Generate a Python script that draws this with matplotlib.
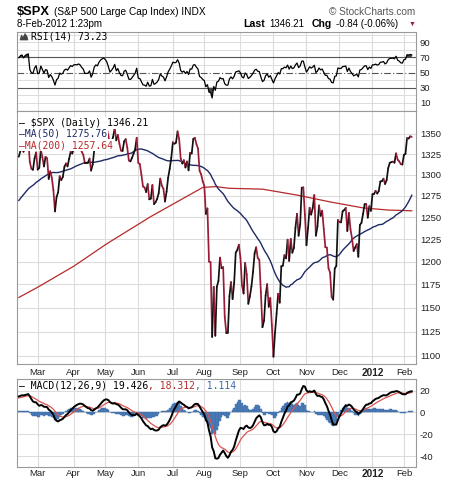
import numpy as np
import pandas as pd
import matplotlib
matplotlib.use("Agg")
import matplotlib.pyplot as plt
from matplotlib.collections import LineCollection
from matplotlib.patches import Polygon
from matplotlib.ticker import FixedLocator, FixedFormatter, NullLocator

plt.rcParams["axes.unicode_minus"] = False

# ---------------- data ----------------
# warm-up closes (Dec 2010 - 9 Feb 2011), used only for indicator calculation
warmup_dec10 = [1206.07, 1221.53, 1224.71, 1223.12, 1223.75, 1228.28, 1233.00, 1240.40, 1240.46, 1241.59,
                1235.23, 1242.87, 1243.91, 1247.08, 1254.60, 1258.84, 1256.77, 1257.54, 1258.51, 1259.78,
                1257.88, 1257.64]
warmup_jan11 = [1271.87, 1270.20, 1276.56, 1273.85, 1271.50, 1269.75, 1274.48, 1285.96, 1283.76, 1293.24,
                1295.02, 1281.92, 1280.26, 1283.35, 1290.84, 1291.18, 1296.63, 1299.54, 1276.34, 1286.12]
warmup_feb11 = [1307.59, 1304.03, 1307.10, 1310.87, 1319.05, 1324.57, 1320.88]

# displayed closes, 10 Feb 2011 - 8 Feb 2012
feb11 = [1321.87, 1329.15, 1332.32, 1328.01, 1336.32, 1340.43, 1343.01, 1315.44, 1307.40, 1306.10, 1319.88, 1327.22]
mar11 = [1306.33, 1308.44, 1330.97, 1321.15, 1310.13, 1321.82, 1320.02, 1295.11, 1304.28, 1296.39, 1281.87, 1256.88,
         1273.72, 1279.21, 1298.38, 1293.77, 1297.54, 1309.66, 1313.80, 1310.19, 1319.44, 1328.26, 1325.83]
apr11 = [1332.41, 1332.87, 1332.63, 1335.54, 1333.51, 1328.17, 1324.46, 1314.16, 1314.41, 1314.52, 1319.68, 1305.14,
         1312.62, 1330.36, 1337.38, 1335.25, 1347.24, 1355.66, 1360.48, 1363.61]
may11 = [1361.22, 1356.62, 1347.32, 1335.10, 1340.20, 1346.29, 1357.16, 1342.08, 1348.65, 1337.77, 1329.47, 1328.98,
         1340.68, 1343.60, 1333.27, 1317.37, 1316.28, 1320.47, 1325.69, 1331.10, 1345.20]
jun11 = [1314.55, 1312.94, 1300.16, 1286.17, 1284.94, 1279.56, 1289.00, 1270.98, 1271.83, 1287.87, 1265.42, 1267.64,
         1271.50, 1278.36, 1295.52, 1287.14, 1283.50, 1268.45, 1280.10, 1296.67, 1307.41, 1320.64]
jul11 = [1339.67, 1337.88, 1339.22, 1353.22, 1343.80, 1319.49, 1313.64, 1317.72, 1308.87, 1316.14, 1305.44, 1326.73,
         1325.84, 1343.80, 1345.02, 1337.43, 1331.94, 1304.89, 1300.67, 1292.28]
aug11 = [1286.94, 1254.05, 1260.34, 1200.07, 1199.38, 1119.46, 1172.53, 1120.76, 1172.64, 1178.81, 1204.49, 1192.76,
         1193.89, 1140.65, 1123.53, 1123.82, 1162.35, 1177.60, 1159.27, 1176.80, 1210.08, 1212.92, 1218.89]
sep11 = [1204.42, 1173.97, 1165.24, 1198.62, 1185.90, 1154.23, 1162.27, 1172.87, 1188.68, 1209.11, 1216.01, 1204.09,
         1202.09, 1166.76, 1129.56, 1136.43, 1162.95, 1175.38, 1151.06, 1160.40, 1131.42]
oct11 = [1099.23, 1123.95, 1144.03, 1164.97, 1155.46, 1194.89, 1195.54, 1207.25, 1203.66, 1224.58, 1200.86, 1225.38,
         1209.88, 1215.39, 1238.25, 1254.19, 1229.05, 1242.00, 1284.59, 1285.09, 1253.30]
nov11 = [1218.28, 1237.90, 1261.15, 1253.23, 1261.12, 1275.92, 1229.10, 1239.69, 1263.85, 1251.78, 1257.81, 1236.91,
         1216.13, 1215.65, 1192.98, 1188.04, 1161.79, 1158.67, 1192.55, 1195.19, 1246.96]
dec11 = [1244.58, 1244.28, 1257.08, 1258.47, 1261.01, 1234.35, 1255.19, 1236.47, 1225.73, 1211.82, 1215.75, 1219.66,
         1205.35, 1241.30, 1243.72, 1254.00, 1265.33, 1265.43, 1249.64, 1263.02, 1257.60]
jan12 = [1277.06, 1277.30, 1281.06, 1277.81, 1280.70, 1292.08, 1292.48, 1295.50, 1289.09, 1293.67, 1308.04, 1314.50,
         1315.38, 1316.00, 1314.65, 1326.06, 1318.43, 1316.33, 1313.01, 1312.41]
feb12 = [1324.09, 1325.54, 1344.90, 1344.33, 1347.05, 1346.21]

# 200-day moving average (trading-day index, value)
ma200_idx = [0, 12, 35, 56, 84, 117, 125, 134, 155, 177, 198, 219, 235, 250]
ma200_val = [1161, 1172, 1195, 1220, 1251, 1285, 1286, 1284, 1283, 1276, 1268, 1261, 1258.5, 1257.64]

month_idx = [12, 35, 55, 76, 98, 118, 141, 162, 183, 204, 225, 245]
month_lbl = ["Mar", "Apr", "May", "Jun", "Jul", "Aug", "Sep", "Oct", "Nov", "Dec", "2012", "Feb"]

price_ticks = [1100, 1125, 1150, 1175, 1200, 1225, 1250, 1275, 1300, 1325, 1350]
rsi_ticks = [10, 30, 50, 70, 90]
macd_ticks = [-40, -20, 0, 20]

# ---------------- indicators ----------------
warm = warmup_dec10 + warmup_jan11 + warmup_feb11
shown = feb11 + mar11 + apr11 + may11 + jun11 + jul11 + aug11 + sep11 + oct11 + nov11 + dec11 + jan12 + feb12
allc = pd.Series(warm + shown, dtype=float)
nw = len(warm)
closes = np.array(shown)
n = len(closes)
x = np.arange(n)

ma50 = allc.rolling(50).mean().values[nw:]

d = allc.diff()
gain = d.clip(lower=0).values
loss = (-d).clip(lower=0).values
ag = np.full(len(allc), np.nan)
al = np.full(len(allc), np.nan)
ag[14] = np.mean(gain[1:15]); al[14] = np.mean(loss[1:15])
for i in range(15, len(allc)):
    ag[i] = (ag[i - 1] * 13 + gain[i]) / 14
    al[i] = (al[i - 1] * 13 + loss[i]) / 14
rsi = (100 - 100 / (1 + ag / al))[nw:]

ema12 = allc.ewm(span=12, adjust=False).mean()
ema26 = allc.ewm(span=26, adjust=False).mean()
macd_s = ema12 - ema26
sig_s = macd_s.ewm(span=9, adjust=False).mean()
macd = macd_s.values[nw:]
sig = sig_s.values[nw:]
hist = macd - sig

# ---------------- figure ----------------
W, H = 460, 482
fig = plt.figure(figsize=(W / 100, H / 100), dpi=100)
fig.patch.set_facecolor("white")
L, R = 16.7, 415.7


def rect(top, bottom):
    return [L / W, 1 - bottom / H, (R - L) / W, (bottom - top) / H]


ax_rsi = fig.add_axes(rect(31.5, 111))
ax_px = fig.add_axes(rect(111, 363.5))
ax_macd = fig.add_axes(rect(378.5, 467))

GRID = "#dcdcdc"
SPINE = "#9a9a9a"
SANS = ["Liberation Sans", "DejaVu Sans"]
MONO = ["DejaVu Sans Mono"]
XL = (-1.35, 252.5)

for ax in (ax_rsi, ax_px, ax_macd):
    ax.set_xlim(*XL)
    for s in ax.spines.values():
        s.set_color(SPINE)
        s.set_linewidth(0.8)
    ax.yaxis.tick_right()
    ax.tick_params(axis="both", length=0, labelsize=6.8, colors="#222222", pad=3)
    ax.xaxis.set_major_locator(FixedLocator(month_idx))
    ax.xaxis.set_minor_locator(NullLocator())
    ax.grid(True, axis="x", color=GRID, linewidth=0.8)
    ax.set_axisbelow(True)

# ---- RSI ----
ax_rsi.set_ylim(-0.8, 104.3)
for lv in range(10, 101, 10):
    if lv in (30, 50, 70):
        continue
    ax_rsi.axhline(lv, color=GRID, lw=0.7, zorder=0)
ax_rsi.axhline(70, color="#555555", lw=0.8, zorder=1)
ax_rsi.axhline(30, color="#555555", lw=0.8, zorder=1)
ax_rsi.axhline(50, color="#555555", lw=0.8, ls=(0, (6, 2, 1, 2)), zorder=1)
ax_rsi.fill_between(x, rsi, 70, where=rsi > 70, interpolate=True, color="#444444", lw=0, zorder=2)
ax_rsi.fill_between(x, rsi, 30, where=rsi < 30, interpolate=True, color="#444444", lw=0, zorder=2)
ax_rsi.plot(x, rsi, color="black", lw=0.9, zorder=3)
ax_rsi.set_yticks(rsi_ticks)
ax_rsi.set_xticklabels([])

# ---- price ----
ax_px.set_yscale("log")
ax_px.set_ylim(1092.4, 1378.9)
ax_px.yaxis.set_major_locator(FixedLocator(price_ticks))
ax_px.yaxis.set_major_formatter(FixedFormatter([str(v) for v in price_ticks]))
ax_px.yaxis.set_minor_locator(NullLocator())
ax_px.grid(True, axis="y", color=GRID, linewidth=0.8)
ax_px.plot(ma200_idx, ma200_val, color="#b52a2a", lw=0.9, zorder=2)
ax_px.plot(x, ma50, color="#1f2a66", lw=1.0, zorder=3)
pts = np.column_stack([x, closes])
segs = np.stack([pts[:-1], pts[1:]], axis=1)
cols = np.where(np.diff(closes) >= 0, "#111111", "#9a1b35")
lc = LineCollection(segs, colors=cols, linewidths=1.25, capstyle="round", joinstyle="round", zorder=4)
ax_px.add_collection(lc)
ax_px.set_xticklabels(month_lbl)
ax_px.tick_params(axis="x", pad=3.5)

# ---- MACD ----
ax_macd.set_ylim(-50.1, 31.2)
ax_macd.set_yticks(macd_ticks)
ax_macd.grid(True, axis="y", color=GRID, linewidth=0.8)
ax_macd.bar(x, hist, width=1.0, color="#4f7fba", edgecolor="#3a6aa5", linewidth=0.3, zorder=2)
ax_macd.plot(x, sig, color="#d9534f", lw=0.9, zorder=3)
ax_macd.plot(x, macd, color="black", lw=1.4, zorder=4)
ax_macd.set_xticklabels(month_lbl)
ax_macd.tick_params(axis="x", pad=1.5)

for ax in (ax_rsi, ax_px, ax_macd):
    for t in ax.get_xticklabels() + ax.get_yticklabels():
        t.set_family(SANS)
for ax in (ax_px, ax_macd):
    ax.get_xticklabels()[10].set_fontweight("bold")
    ax.get_xticklabels()[10].set_fontsize(7.2)


# ---------------- texts ----------------
def ftext(px, py, s, **kw):
    kw.setdefault("va", "center")
    return fig.text(px / W, 1 - py / H, s, **kw)


ftext(16.5, 12, "$SPX", family=SANS, fontsize=9.3, fontweight="bold")
ftext(54, 12, "(S&P 500 Large Cap Index) INDX", family=SANS, fontsize=7.3)
ftext(415, 12, "\u00a9 StockCharts.com", family=SANS, fontsize=7.2, color="#555555", ha="right")
ftext(17, 24, "8-Feb-2012 1:23pm", family=SANS, fontsize=7.0)
ftext(243, 24, "Last", family=SANS, fontsize=7.6, fontweight="bold")
ftext(269, 24, "1346.21", family=SANS, fontsize=7.0)
ftext(311.5, 24, "Chg", family=SANS, fontsize=7.6, fontweight="bold")
ftext(336.5, 24, "-0.84 (-0.06%)", family=SANS, fontsize=7.0)
ftext(408.5, 24.5, "\u25bc", family=SANS, fontsize=5.0, color="#9a1b35")

CW = 0.602 * 7.0 * 100 / 72  # monospace char width in px

# RSI legend with a small mountain icon
icon = [(20, 40), (21.5, 35), (23, 37.5), (25, 33.5), (27, 36.5), (28, 40)]
fig.add_artist(Polygon([(a / W, 1 - b / H) for a, b in icon], closed=True,
                       transform=fig.transFigure, facecolor="#444444", edgecolor="#444444", lw=0.5))
ftext(31.5, 36.7, "RSI(14) 73.23", family=MONO, fontsize=7.0)

bb = dict(facecolor="white", edgecolor="none", pad=0.6)
ftext(19, 123, "\u2014 $SPX (Daily) 1346.21", family=MONO, fontsize=7.0, color="black", bbox=bb)
ftext(19, 134, "\u2014MA(50) 1275.76", family=MONO, fontsize=7.0, color="#1f2a66", bbox=bb)
ftext(19, 145, "\u2014MA(200) 1257.64", family=MONO, fontsize=7.0, color="#b52a2a", bbox=bb)

mx = 19
ftext(mx, 386, "\u2014 MACD(12,26,9) 19.426", family=MONO, fontsize=7.0, color="black")
mx2 = mx + CW * len("\u2014 MACD(12,26,9) 19.426")
ftext(mx2, 386, ", 18.312", family=MONO, fontsize=7.0, color="#b52a2a")
mx3 = mx2 + CW * len(", 18.312")
ftext(mx3, 386, ", 1.114", family=MONO, fontsize=7.0, color="#3a6aa5")

fig.savefig("out.png", dpi=100, facecolor="white")
